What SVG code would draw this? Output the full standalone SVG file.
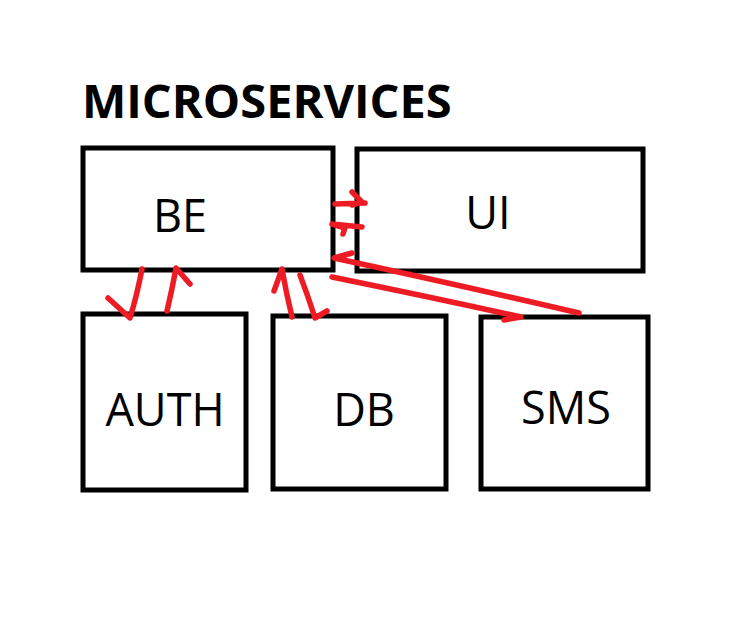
<svg xmlns="http://www.w3.org/2000/svg" width="735" height="619" viewBox="0 0 735 619">
<style>
.box{fill:#fff;stroke:#000;stroke-width:5}
.lbl{font-family:"Open Sans","Noto Sans",sans-serif;font-size:45px;fill:#000;text-anchor:middle}
.title{font-family:"Open Sans","Noto Sans",sans-serif;font-size:47px;font-weight:bold;fill:#000}
.red{fill:none;stroke:#ed1c24;stroke-width:5.5;stroke-linecap:round;stroke-linejoin:round}
</style>
<rect width="735" height="619" fill="#fff"/>
<text class="title" x="82" y="118">MICROSERVICES</text>
<g id="be"><rect class="box" x="83" y="148" width="250" height="122"/><text class="lbl" x="180" y="232">BE</text></g>
<g id="ui"><rect class="box" x="357" y="149" width="286" height="122"/><text class="lbl" x="488" y="229">UI</text></g>
<g id="auth"><rect class="box" x="83" y="314" width="163" height="176"/><text class="lbl" x="165" y="426">AUTH</text></g>
<g id="db"><rect class="box" x="273" y="316" width="173" height="173"/><text class="lbl" x="364" y="426">DB</text></g>
<g id="sms"><rect class="box" x="481" y="317" width="167" height="172"/><text class="lbl" x="566" y="424">SMS</text></g>
<g id="connectors">
<path class="red" d="M335,204 L365,203 M352,192 L362,202 L352,205"/>
<path class="red" d="M362,227 L332,224 M332,224 L345,228 L343,234"/>
<path class="red" d="M142,269 Q137,295 130,318 L108,298"/>
<path class="red" d="M167,311 Q172,290 176,268 L190,284"/>
<path class="red" d="M292,317 Q286,292 282,269 L274,291"/>
<path class="red" d="M300,275 Q308,296 315,318 L327,311"/>
<path class="red" d="M579,313 Q450,283 334,258 L352,253"/>
<path class="red" d="M332,277 Q430,297 521,317 L504,320"/>
</g>
</svg>
